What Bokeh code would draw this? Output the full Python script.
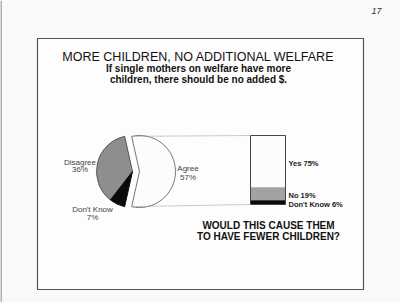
import math
from bokeh.plotting import figure
from bokeh.models import ColumnDataSource
from bokeh.embed import file_html
from bokeh.resources import INLINE
from bokeh.core.properties import value

# ---- data ----
title = "MORE CHILDREN, NO ADDITIONAL WELFARE"
subtitle = ["If single mothers on welfare have more", "children, there should be no added $."]
question = ["WOULD THIS CAUSE THEM", "TO HAVE FEWER CHILDREN?"]
page_number = "17"

pie_labels = ["Agree", "Disagree", "Don't Know"]
pie_values = [57, 36, 7]
pie_colors = ["#fcfcfc", "#8e8e8e", "#0a0a0a"]

bar_labels = ["Yes", "No", "Don't Know"]
bar_values = [75, 19, 6]
bar_colors = ["#fcfcfc", "#a2a2a2", "#0a0a0a"]

W, H = 400, 302
def Y(px):
    return H - px

p = figure(width=W, height=H, x_range=(0, W), y_range=(0, H),
           output_backend="svg", toolbar_location=None, min_border=0)
p.axis.visible = False
p.grid.visible = False
p.outline_line_color = None
p.background_fill_color = "#f9f9f9"
p.border_fill_color = "#f9f9f9"

FONT = value("Liberation Sans")

# page edge and frame
p.segment(x0=[0.5], y0=[Y(0)], x1=[0.5], y1=[Y(302)], line_color="#666", line_width=1)
p.quad(left=[37], right=[363], top=[Y(38)], bottom=[Y(289)],
       fill_color="#fdfdfd", line_color="#555", line_width=1.2)

# titles
p.text(x=[198], y=[Y(56)], text=[title], text_font=FONT, text_font_size="12.5px",
       text_align="center", text_baseline="middle", text_color="#111")
p.text(x=[198, 198], y=[Y(68), Y(79)], text=subtitle, text_font=FONT,
       text_font_size="10px", text_font_style="bold",
       text_align="center", text_baseline="middle", text_color="#111")
p.text(x=[268, 268], y=[Y(225), Y(236)], text=question, text_font=FONT,
       text_font_size="10px", text_font_style="bold",
       text_align="center", text_baseline="middle", text_color="#111")
p.text(x=[376], y=[Y(10)], text=[page_number], text_font=FONT, text_font_size="9px",
       text_font_style="italic", text_align="center", text_baseline="middle", text_color="#333")

# ---- pie ----
R = 36
cy = Y(171)
total = sum(pie_values)
half_agree = pie_values[0] / total * math.pi  # half angle of Agree slice
starts, ends, cxs = [], [], []
starts.append(-half_agree)
ends.append(half_agree)
cxs.append(139)
a = half_agree
for v in pie_values[1:]:
    starts.append(a)
    a += v / total * 2 * math.pi
    ends.append(a)
    cxs.append(132)
pie_src = ColumnDataSource(dict(x=cxs, y=[cy] * 3, start=starts, end=ends,
                                color=pie_colors, line=["#777", "#555", "#111"]))
p.wedge(x="x", y="y", radius=R, start_angle="start", end_angle="end",
        fill_color="color", line_color="line", line_width=1, source=pie_src)

# ---- bar ----
bar_left, bar_right = 250, 285
bar_top_px, bar_h = 135, 69
bt = sum(bar_values)
tops, bottoms = [], []
cum = 0
for v in bar_values:
    top = Y(bar_top_px) - cum / bt * bar_h
    cum += v
    bottom = Y(bar_top_px) - cum / bt * bar_h
    tops.append(top)
    bottoms.append(bottom)
bar_src = ColumnDataSource(dict(top=tops, bottom=bottoms, color=bar_colors))
p.quad(left=bar_left, right=bar_right, top="top", bottom="bottom",
       fill_color="color", line_color=None, source=bar_src)
p.quad(left=[bar_left], right=[bar_right], top=[Y(bar_top_px)], bottom=[Y(bar_top_px) - bar_h],
       fill_color=None, line_color="#444", line_width=1)

# connector lines from Agree slice edges to bar
ax = 139 + R * math.cos(half_agree)
ay_top = cy + R * math.sin(half_agree)
ay_bot = cy - R * math.sin(half_agree)
p.segment(x0=[ax, ax], y0=[ay_top, ay_bot], x1=[bar_left, bar_left],
          y1=[Y(bar_top_px), Y(bar_top_px) - bar_h],
          line_color="#999", line_width=1, line_dash="1 1")

# pie labels
pie_txt = [f"{pie_labels[0]}", f"{pie_values[0]}%",
           f"{pie_labels[1]}", f"{pie_values[1]}%",
           f"{pie_labels[2]}", f"{pie_values[2]}%"]
p.text(x=[187.5, 187.5, 79.5, 79.5, 92, 92],
       y=[Y(168), Y(176.5), Y(162), Y(168.5), Y(209), Y(217)],
       text=pie_txt, text_font=FONT, text_font_size="8px",
       text_align="center", text_baseline="middle", text_color="#444")

# bar labels
bar_txt = [f"{l} {v}%" for l, v in zip(bar_labels, bar_values)]
p.text(x=[288] * 3, y=[Y(162.5), Y(195), Y(203.5)], text=bar_txt, text_font=FONT,
       text_font_size="7.5px", text_font_style="bold",
       text_align="left", text_baseline="middle", text_color="#222")

open("out.html", "w").write(file_html(p, INLINE))
